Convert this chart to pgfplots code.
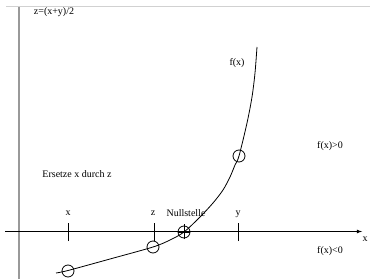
\documentclass[border=0pt]{standalone}
\usepackage{pgfplots}
\pgfplotsset{compat=1.18}
\usepackage{fontspec}
\setmainfont{Liberation Serif}
\begin{document}
\begin{tikzpicture}
\begin{axis}[
  scale only axis, width=370pt, height=279pt,
  xmin=0, xmax=370, ymin=0, ymax=279,
  hide axis, clip=false,
  every node/.style={font=\fontsize{6}{7}\selectfont},
]
% frame
\addplot[color=black!40, line width=1.6pt] coordinates {(19,0) (19,273)};
\addplot[color=black!18, line width=0.8pt] coordinates {(6,273) (370,273)};
% x axis
\addplot[black, line width=0.8pt, -{latex}] coordinates {(5,47.5) (362,47.5)};
% ticks
\addplot[black, line width=0.8pt] coordinates {(68,38) (68,56)};
\addplot[black, line width=0.8pt] coordinates {(154,38) (154,56)};
\addplot[black, line width=0.8pt] coordinates {(238,38) (238,56)};
\addplot[black, line width=0.6pt] coordinates {(184,40) (184,55)};
% curve
\addplot[black, line width=0.8pt, smooth] coordinates {
(56,6) (68,8.5) (110,20) (153,32) (170,39) (184,47) (200,62) (213,76)
(223,89) (230,102) (235,114) (239,123) (247,156) (252,182) (255,206) (257,232)};
% circles
\addplot[only marks, mark=o, mark size=6pt, mark options={line width=0.8pt, black}] coordinates {
(68,8) (153,32) (184,47) (239,123)};
\addplot[black, line width=0.6pt] coordinates {(178,47) (190,47)};
% labels
\node at (axis cs:68,66) {x};
\node at (axis cs:153,66) {z};
\node at (axis cs:186,66) {Nullstelle};
\node at (axis cs:238,65) {y};
\node at (axis cs:237,216) {f(x)};
\node at (axis cs:330,133) {f(x)>0};
\node at (axis cs:330,28) {f(x)<0};
\node at (axis cs:365,40) {x};
\node at (axis cs:77,105) {Ersetze x durch z};
\node at (axis cs:54,267) {z=(x+y)/2};
\end{axis}
\pgfresetboundingbox
\useasboundingbox (current axis.south west) rectangle (current axis.north east);
\end{tikzpicture}
\end{document}
